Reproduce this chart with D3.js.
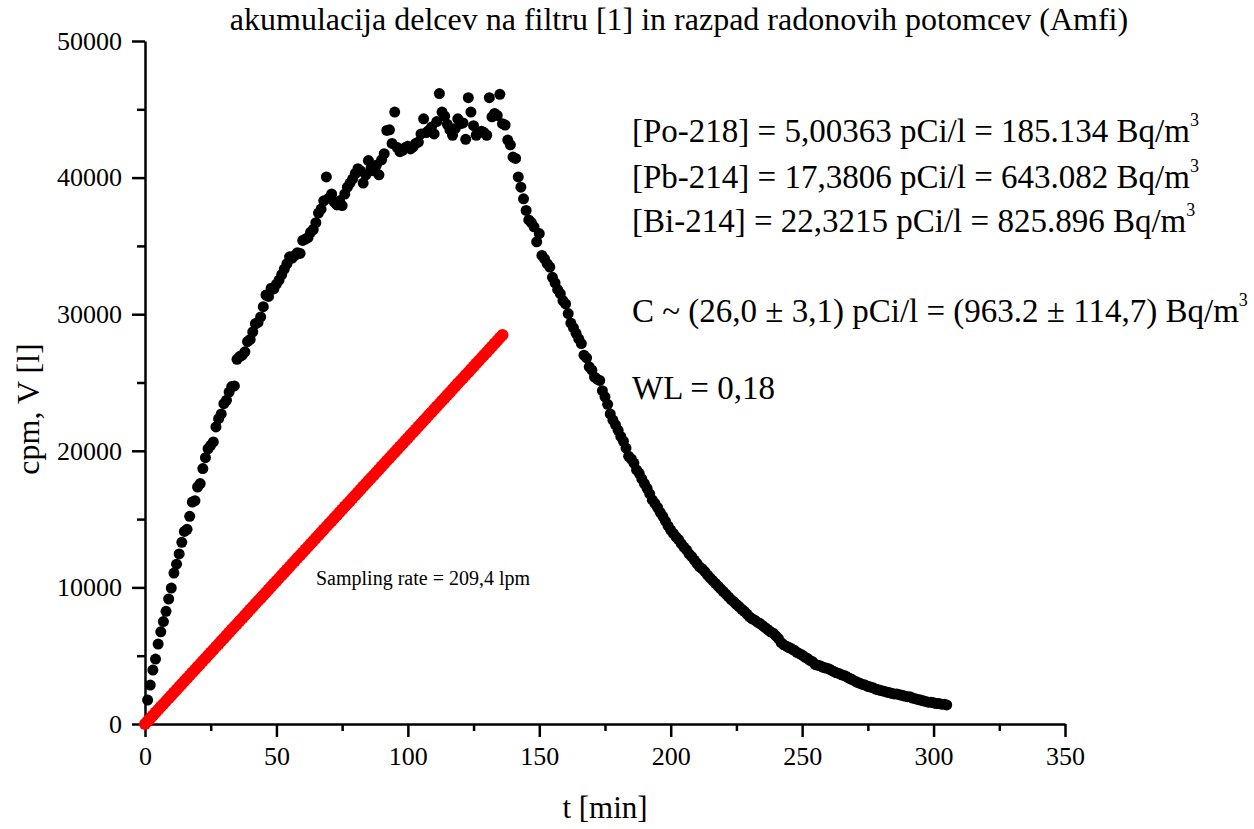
<!DOCTYPE html>
<html>
<head>
<meta charset="utf-8">
<script src="https://cdn.jsdelivr.net/npm/d3@7"></script>
<style>
  body { margin: 0; background: #fff; }
  svg text { font-family: "Liberation Serif", "Times New Roman", serif; fill: #000; }
  .axis path, .axis line { stroke: #000; stroke-width: 2.5; }
</style>
</head>
<body>
<div id="chart"></div>
<script>
// black dots: counts per minute, one sample per minute starting at t = 1 min
const cpmStart = 1;
const cpmValues = [
  1750, 2850, 3950, 4750, 5850, 6750, 7500, 8250, 9150, 9950,
  11050, 11700, 12450, 13300, 14100, 14250, 15200, 16250, 16350, 17350,
  17600, 18700, 19500, 20150, 20400, 20650, 21750, 22350, 22700, 23450,
  23700, 24300, 24700, 24750, 26700, 26900, 27000, 27250, 28000, 28150,
  28700, 29300, 29400, 29800, 30550, 31400, 31300, 31900, 31850, 32200,
  32500, 32900, 33300, 33700, 34200, 34100, 34300, 34500, 34450, 35400,
  35500, 35600, 36000, 36200, 36700, 37400, 37700, 38300, 40050, 38500,
  38800, 38200, 38000, 38300, 37950, 38800, 39300, 39600, 39900, 40300,
  40650, 40500, 39600, 40200, 41250, 40700, 40500, 40900, 40200, 41300,
  41750, 43450, 43500, 42500, 44800, 42200, 41900, 42000, 42200, 42300,
  42100, 42250, 42500, 42600, 43200, 44300, 43300, 43450, 43700, 43200,
  44100, 46150, 44800, 44500, 43900, 43500, 43100, 43600, 44300, 43950,
  44000, 42800, 45850, 44800, 43800, 43100, 43300, 43400, 43300, 43100,
  45850, 44450, 44700, 44550, 46100, 43950, 43850, 42750, 42400, 41500,
  41400, 40050, 39300, 38450, 37600, 36900, 36700, 36400, 35300, 35900,
  34300, 34050, 33700, 33450, 32700, 32300, 31800, 31500, 31000, 30750,
  30050, 29350, 29000, 28600, 28200, 27850, 27000, 26800, 26150, 25900,
  25400, 25250, 25150, 24400, 23950, 23400, 22700, 22250, 21900, 21500,
  21050, 20700, 20200, 19600, 19400, 19100, 18600, 18350, 17950, 17600,
  17250, 16850, 16400, 16150, 15850, 15500, 15200, 14850, 14500, 14200,
  13950, 13700, 13500, 13200, 12950, 12750, 12450, 12250, 12000, 11750,
  11500, 11350, 11150, 10900, 10700, 10500, 10300, 10100, 9900, 9700,
  9500, 9300, 9100, 8950, 8750, 8600, 8400, 8250, 8050, 7850,
  7700, 7600, 7450, 7350, 7200, 7050, 6900, 6750, 6650, 6450,
  6250, 5950, 5800, 5700, 5600, 5500, 5400, 5250, 5150, 5050,
  4900, 4800, 4650, 4550, 4350, 4300, 4250, 4150, 4100, 4050,
  3950, 3850, 3750, 3700, 3600, 3550, 3450, 3350, 3250, 3150,
  3050, 2980, 2900, 2850, 2750, 2700, 2650, 2550, 2500, 2450,
  2400, 2350, 2300, 2250, 2200, 2200, 2150, 2100, 2050, 2000,
  2000, 1900, 1850, 1800, 1750, 1700, 1650, 1600, 1600, 1550,
  1500, 1500, 1450, 1450, 1400
];

// red dots: sampled air volume in litres, one sample per minute starting at t = 0
const volStart = 0;
const volValues = [
  0, 209, 419, 628, 838, 1047, 1256, 1466, 1675, 1885,
  2094, 2303, 2513, 2722, 2932, 3141, 3350, 3560, 3769, 3979,
  4188, 4397, 4607, 4816, 5026, 5235, 5444, 5654, 5863, 6073,
  6282, 6491, 6701, 6910, 7120, 7329, 7538, 7748, 7957, 8167,
  8376, 8585, 8795, 9004, 9214, 9423, 9632, 9842, 10051, 10261,
  10470, 10679, 10889, 11098, 11308, 11517, 11726, 11936, 12145, 12355,
  12564, 12773, 12983, 13192, 13402, 13611, 13820, 14030, 14239, 14449,
  14658, 14867, 15077, 15286, 15496, 15705, 15914, 16124, 16333, 16543,
  16752, 16961, 17171, 17380, 17590, 17799, 18008, 18218, 18427, 18637,
  18846, 19055, 19265, 19474, 19684, 19893, 20102, 20312, 20521, 20731,
  20940, 21149, 21359, 21568, 21778, 21987, 22196, 22406, 22615, 22825,
  23034, 23243, 23453, 23662, 23872, 24081, 24290, 24500, 24709, 24919,
  25128, 25337, 25547, 25756, 25966, 26175, 26384, 26594, 26803, 27013,
  27222, 27431, 27641, 27850, 28060, 28269, 28478
];

const xTicksMajor = [0, 50, 100, 150, 200, 250, 300, 350];
const yTicksMajor = [0, 10000, 20000, 30000, 40000, 50000];

const titleText = "akumulacija delcev na filtru [1] in razpad radonovih potomcev (Amfi)";
const noteLines = [
  "[Po-218] = 5,00363 pCi/l = 185.134 Bq/m",
  "[Pb-214] = 17,3806 pCi/l = 643.082 Bq/m",
  "[Bi-214] = 22,3215 pCi/l = 825.896 Bq/m",
  "C ~ (26,0 \u00b1 3,1) pCi/l = (963.2 \u00b1 114,7) Bq/m",
  "WL = 0,18"
];
const rateText = "Sampling rate = 209,4 lpm";

const W = 1254, H = 829;
const margin = {top: 41, right: 189, bottom: 105, left: 145};
const width = W - margin.left - margin.right;
const height = H - margin.top - margin.bottom;

const svg = d3.select("#chart").append("svg")
    .attr("width", W)
    .attr("height", H);

const chart = svg.append("g")
    .attr("transform", `translate(${margin.left},${margin.top})`);

const x = d3.scaleLinear().domain([0, 350]).range([0, width]);
const y = d3.scaleLinear().domain([0, 50000]).range([height, 0]);

// minor ticks first (shorter), then major with labels
chart.append("g")
    .attr("class", "axis")
    .attr("transform", `translate(0,${height})`)
    .call(d3.axisBottom(x).tickValues(d3.range(25, 350, 50)).tickSize(7).tickFormat(""))
    .call(g => g.select(".domain").remove());

chart.append("g")
    .attr("class", "axis")
    .call(d3.axisLeft(y).tickValues(d3.range(5000, 50000, 10000)).tickSize(8).tickFormat(""))
    .call(g => g.select(".domain").remove());

const xG = chart.append("g")
    .attr("class", "axis")
    .attr("transform", `translate(0,${height})`)
    .call(d3.axisBottom(x).tickValues(xTicksMajor).tickSize(13).tickSizeOuter(0).tickPadding(10).tickFormat(d3.format("d")));
xG.selectAll("text").style("font-size", "26px").attr("dy", "0.71em");

const yG = chart.append("g")
    .attr("class", "axis")
    .call(d3.axisLeft(y).tickValues(yTicksMajor).tickSize(13).tickSizeOuter(0).tickPadding(10).tickFormat(d3.format("d")));
yG.selectAll("text").style("font-size", "26px");

// data
chart.append("g").selectAll("circle")
    .data(cpmValues)
    .join("circle")
    .attr("cx", (d, i) => x(cpmStart + i))
    .attr("cy", d => y(d))
    .attr("r", 5.5)
    .attr("fill", "#000");

chart.append("g").selectAll("circle")
    .data(volValues)
    .join("circle")
    .attr("cx", (d, i) => x(volStart + i))
    .attr("cy", d => y(d))
    .attr("r", 6)
    .attr("fill", "#ff0000");

// titles
svg.append("text")
    .attr("x", 679)
    .attr("y", 30)
    .attr("text-anchor", "middle")
    .style("font-size", "32px")
    .text(titleText);

svg.append("text")
    .attr("x", 605)
    .attr("y", 818)
    .attr("text-anchor", "middle")
    .style("font-size", "31px")
    .text("t [min]");

svg.append("text")
    .attr("transform", "translate(39,409) rotate(-90)")
    .attr("text-anchor", "middle")
    .style("font-size", "32px")
    .text("cpm, V [l]");

// notes on the right
const noteY = [142, 188, 232, 322, 399];
noteLines.forEach((s, i) => {
    const t = svg.append("text")
        .attr("x", 632)
        .attr("y", noteY[i])
        .style("font-size", "33px")
        .text(s);
    if (s.endsWith("Bq/m")) {
        t.append("tspan")
            .attr("dy", -16)
            .style("font-size", "18px")
            .text("3");
    }
});

svg.append("text")
    .attr("x", 316)
    .attr("y", 585)
    .style("font-size", "20px")
    .text(rateText);
</script>
</body>
</html>
